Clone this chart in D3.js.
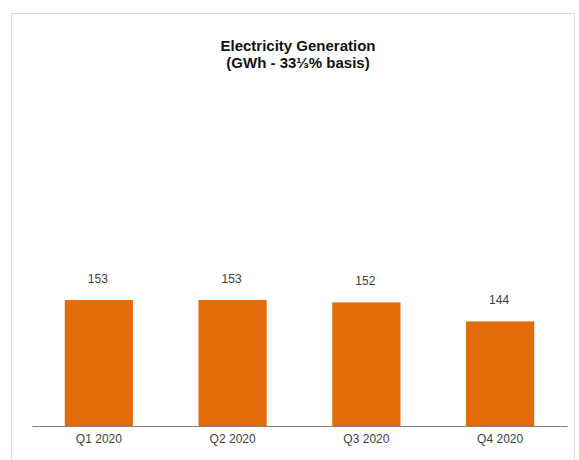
<!DOCTYPE html>
<html><head><meta charset="utf-8">
<script src="https://cdn.jsdelivr.net/npm/d3@7"></script>
<style>body{margin:0;background:#fff}svg{display:block}</style>
</head><body>
<svg id="c" width="579" height="460"></svg>
<script>
const categories = ["Q1 2020", "Q2 2020", "Q3 2020", "Q4 2020"];
const values = [153, 153, 152, 144];
const titleLines = ["Electricity Generation", "(GWh - 33\u2153% basis)"];

const svg = d3.select("#c");
// frame
svg.append("rect").attr("x", 11.5).attr("y", 13.5).attr("width", 563).attr("height", 460)
  .attr("fill", "#fff").attr("stroke", "#d9d9d9").attr("stroke-width", 1);

const x = d3.scaleBand().domain(categories).range([32, 567]).paddingInner(0.49).paddingOuter(0.245);
const y = d3.scaleLinear().domain([100, 220]).range([426, 426 - 120 * 2.377]);

svg.append("g").selectAll("rect").data(values).join("rect")
  .attr("x", (d, i) => x(categories[i]))
  .attr("y", d => y(d))
  .attr("width", x.bandwidth())
  .attr("height", d => y(100) - y(d))
  .attr("fill", "#E36C0A");

svg.append("g").selectAll("text").data(values).join("text")
  .attr("x", (d, i) => x(categories[i]) + x.bandwidth() / 2 - 1)
  .attr("y", d => y(d) - 17)
  .attr("text-anchor", "middle")
  .attr("font-family", "Liberation Sans, Arial, sans-serif")
  .attr("font-size", 12).attr("fill", "#404040")
  .text(d => d);

const ax = d3.axisBottom(x).tickSize(0).tickPadding(8);
const g = svg.append("g").attr("transform", "translate(0,426)").call(ax);
g.select(".domain").attr("stroke", "#7f7f7f").attr("stroke-width", 1);
g.selectAll("text").attr("font-family", "Liberation Sans, Arial, sans-serif")
  .attr("font-size", 12).attr("fill", "#404040");

svg.append("g").selectAll("text").data(titleLines).join("text")
  .attr("x", 298).attr("y", (d, i) => 51 + i * 17)
  .attr("text-anchor", "middle")
  .attr("font-family", "Liberation Sans, Arial, sans-serif")
  .attr("font-weight", "bold").attr("font-size", 15).attr("fill", "#111")
  .text(d => d);
</script>
</body></html>
